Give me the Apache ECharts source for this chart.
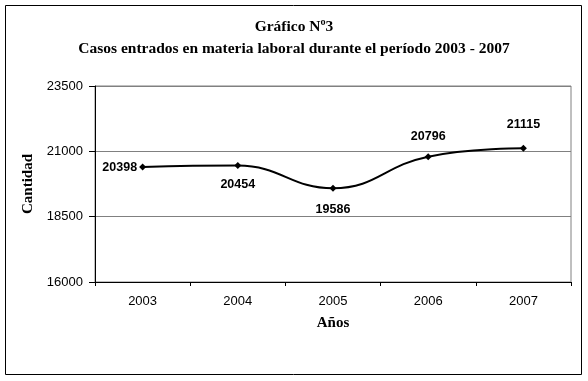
<!DOCTYPE html>
<html>
<head>
<meta charset="utf-8">
<script src="https://cdn.jsdelivr.net/npm/echarts@6/dist/echarts.min.js"></script>
<style>
html,body{margin:0;padding:0;background:#fff;}
#c{width:588px;height:381px;}
</style>
</head>
<body>
<div id="c"></div>
<script>
var categories = ['2003', '2004', '2005', '2006', '2007'];
var casos = [20398, 20454, 19586, 20796, 21115];
var yTicks = [16000, 18500, 21000, 23500];

var labelPlacement = [
  {position: 'left', distance: 2},
  {position: 'bottom', distance: 9},
  {position: 'bottom', distance: 11},
  {position: 'top', distance: 10},
  {position: 'top', distance: 14}
];

var chart = echarts.init(document.getElementById('c'), null, {renderer: 'canvas'});
var option = {
  backgroundColor: '#ffffff',
  animation: false,
  title: {
    text: 'Gráfico Nº3\nCasos entrados en materia laboral durante el período 2003 - 2007',
    left: 'center',
    top: 11,
    textStyle: {
      fontFamily: 'Liberation Serif',
      fontWeight: 'bold',
      fontSize: 15.5,
      color: '#000',
      lineHeight: 22
    }
  },
  graphic: [{
    type: 'rect',
    shape: {x: 5.5, y: 5.5, width: 576, height: 369},
    style: {fill: 'none', stroke: '#000', lineWidth: 1},
    silent: true
  }],
  grid: {
    left: 95, right: 17, top: 86, bottom: 99,
    show: true, borderColor: '#808080', borderWidth: 1, backgroundColor: '#fff'
  },
  xAxis: {
    type: 'category',
    data: categories,
    boundaryGap: true,
    name: 'Años',
    nameLocation: 'middle',
    nameGap: 34,
    nameTextStyle: {fontFamily: 'Liberation Serif', fontWeight: 'bold', fontSize: 15, color: '#000'},
    axisLine: {lineStyle: {color: '#000', width: 1}},
    axisTick: {show: true, length: 4, lineStyle: {color: '#000'}},
    axisLabel: {margin: 13, fontFamily: 'Liberation Sans', fontSize: 13, color: '#000'},
    splitLine: {show: false}
  },
  yAxis: {
    type: 'value',
    min: yTicks[0],
    max: yTicks[yTicks.length - 1],
    interval: yTicks[1] - yTicks[0],
    name: 'Cantidad',
    nameLocation: 'middle',
    nameGap: 50,
    nameRotate: 90,
    nameTextStyle: {fontFamily: 'Liberation Serif', fontWeight: 'bold', fontSize: 15, color: '#000'},
    axisLine: {show: true, lineStyle: {color: '#000', width: 1}},
    axisTick: {show: true, length: 6, lineStyle: {color: '#000'}},
    axisLabel: {
      margin: 12, fontFamily: 'Liberation Sans', fontSize: 13, color: '#000',
      formatter: function (v) { return String(v); }
    },
    splitLine: {show: true, lineStyle: {color: '#808080', width: 1}}
  },
  series: [{
    type: 'line',
    smooth: 0.45,
    symbol: 'diamond',
    symbolSize: 7,
    lineStyle: {color: '#000', width: 2},
    itemStyle: {color: '#000'},
    data: casos.map(function (v, i) {
      return {
        value: v,
        label: {
          show: true,
          position: labelPlacement[i].position,
          distance: labelPlacement[i].distance,
          fontFamily: 'Liberation Sans',
          fontWeight: 'bold',
          fontSize: 12.5,
          color: '#000'
        }
      };
    })
  }]
};
chart.setOption(option);
</script>
</body>
</html>
